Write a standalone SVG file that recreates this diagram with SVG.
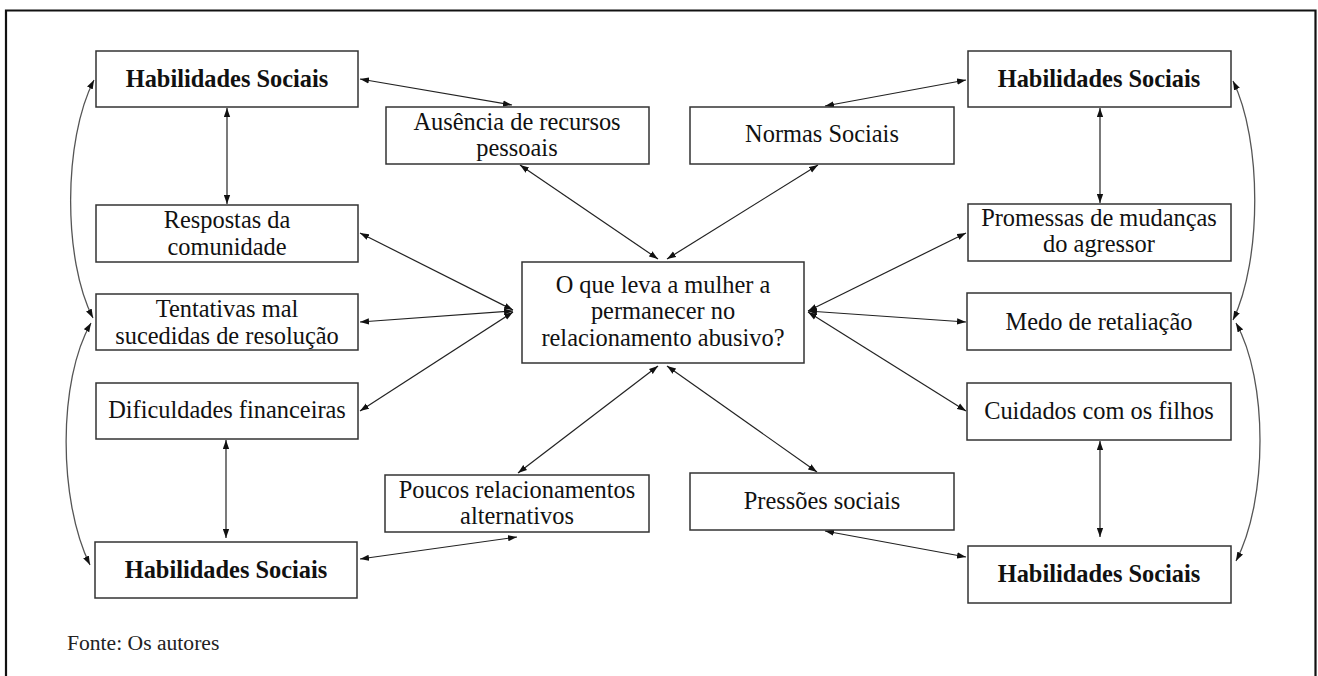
<svg xmlns="http://www.w3.org/2000/svg" width="1318" height="676" viewBox="0 0 1318 676">
<style>
.box{fill:#fff;stroke:#333;stroke-width:1.5}
.t{font-family:"Liberation Serif","Times New Roman",serif;font-size:24.4px;fill:#111;text-anchor:middle}
.b{font-weight:bold}
.f{font-family:"Liberation Serif","Times New Roman",serif;font-size:21.6px;fill:#222}
.c{fill:none;stroke:#222;stroke-width:1.2;marker-start:url(#ah);marker-end:url(#ah)}
.cv{fill:none;stroke:#555;stroke-width:1.3;marker-start:url(#ah);marker-end:url(#ah)}
</style>
<defs>
<marker id="ah" viewBox="0 0 10 7" refX="10" refY="3.5" markerWidth="9" markerHeight="7" markerUnits="userSpaceOnUse" orient="auto-start-reverse">
<path d="M0,0 L10,3.5 L0,7 z" fill="#111"/>
</marker>
</defs>
<rect width="1318" height="676" fill="#fff"/>
<path d="M6,676 V10.5 H1315.5 V676" fill="none" stroke="#111" stroke-width="2.2"/>

<g id="connectors">
<path class="c" d="M360,79 L512,105"/>
<path class="c" d="M520,165 L658,259"/>
<path class="c" d="M818,165 L667,259"/>
<path class="c" d="M825,106 L966,80"/>
<path class="c" d="M1100,108 L1100,203"/>
<path class="c" d="M227,108 L227,204"/>
<path class="c" d="M360,233 L513,310"/>
<path class="c" d="M360,322 L513,311"/>
<path class="c" d="M360,411 L513,312"/>
<path class="c" d="M966,233 L808,311"/>
<path class="c" d="M966,322 L808,311"/>
<path class="c" d="M966,411 L808,312"/>
<path class="c" d="M226,440 L226,538"/>
<path class="c" d="M1100,441 L1100,537"/>
<path class="c" d="M658,366 L518,473"/>
<path class="c" d="M667,366 L817,472"/>
<path class="c" d="M360,559 L517,537"/>
<path class="c" d="M825,531 L966,557"/>
<path class="cv" d="M94,80 C63,140 63,260 93,318"/>
<path class="cv" d="M91,323 C58,380 58,500 90,565"/>
<path class="cv" d="M1233,81 C1262,140 1262,260 1233,320"/>
<path class="cv" d="M1236,323 C1268,380 1268,500 1236,561"/>
</g>

<g id="hs-top-left"><rect class="box" x="96" y="51" width="262" height="56"/><text class="t b" x="227" y="87">Habilidades Sociais</text></g>
<g id="respostas"><rect class="box" x="96" y="205" width="262" height="57"/><text class="t" x="227" y="228">Respostas da</text><text class="t" x="227" y="255">comunidade</text></g>
<g id="tentativas"><rect class="box" x="96" y="294" width="262" height="56"/><text class="t" x="227" y="317">Tentativas mal</text><text class="t" x="227" y="344">sucedidas de resolução</text></g>
<g id="dificuldades"><rect class="box" x="96" y="383" width="262" height="56"/><text class="t" x="227" y="418">Dificuldades financeiras</text></g>
<g id="hs-bottom-left"><rect class="box" x="95" y="542" width="262" height="56"/><text class="t b" x="226" y="578">Habilidades Sociais</text></g>

<g id="ausencia"><rect class="box" x="386" y="107" width="263" height="57"/><text class="t" x="517" y="130">Ausência de recursos</text><text class="t" x="517" y="156">pessoais</text></g>
<g id="normas"><rect class="box" x="690" y="107" width="264" height="57"/><text class="t" x="822" y="142">Normas Sociais</text></g>
<g id="center"><rect class="box" x="522" y="262" width="282" height="101"/><text class="t" x="663" y="293">O que leva a mulher a</text><text class="t" x="663" y="319">permanecer no</text><text class="t" x="663" y="346">relacionamento abusivo?</text></g>
<g id="poucos"><rect class="box" x="385" y="475" width="264" height="57"/><text class="t" x="517" y="498">Poucos relacionamentos</text><text class="t" x="517" y="524">alternativos</text></g>
<g id="pressoes"><rect class="box" x="690" y="473" width="264" height="57"/><text class="t" x="822" y="509">Pressões sociais</text></g>

<g id="hs-top-right"><rect class="box" x="968" y="51" width="263" height="56"/><text class="t b" x="1099" y="87">Habilidades Sociais</text></g>
<g id="promessas"><rect class="box" x="968" y="204" width="263" height="57"/><text class="t" x="1099" y="226">Promessas de mudanças</text><text class="t" x="1099" y="252">do agressor</text></g>
<g id="medo"><rect class="box" x="967" y="293" width="264" height="57"/><text class="t" x="1099" y="330">Medo de retaliação</text></g>
<g id="cuidados"><rect class="box" x="967" y="383" width="264" height="57"/><text class="t" x="1099" y="419">Cuidados com os filhos</text></g>
<g id="hs-bottom-right"><rect class="box" x="968" y="546" width="263" height="57"/><text class="t b" x="1099" y="582">Habilidades Sociais</text></g>

<text class="f" x="67" y="650">Fonte: Os autores</text>
</svg>
